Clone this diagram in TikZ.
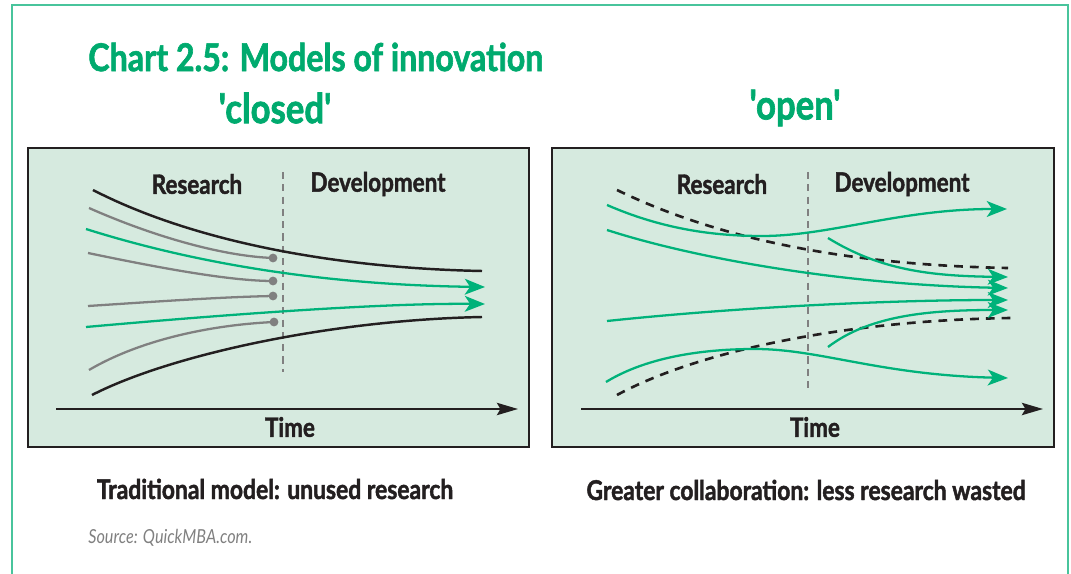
\documentclass[tikz,border=0pt]{standalone}
\usepackage{fontspec}
\usepackage{xcolor}
\usepackage{tikz}
\usetikzlibrary{calc}
\usetikzlibrary{arrows.meta}
\usetikzlibrary{positioning}

\newfontfamily\gill[FakeStretch=0.84, BoldFeatures={FakeBold=1.6}]{Lato}
\definecolor{titlegreen}{RGB}{0,170,110}
\definecolor{linegreen}{RGB}{0,178,122}
\definecolor{framegreen}{RGB}{72,196,156}
\definecolor{panelfill}{RGB}{214,234,223}
\definecolor{inkdark}{RGB}{35,31,32}
\definecolor{deadgray}{RGB}{128,128,128}

\tikzset{
  panel/.style={draw=inkdark, line width=1.4pt, fill=panelfill},
  head/.style={font=\gill\bfseries\fontsize{15.2}{17}\selectfont, text=inkdark, inner sep=0pt},
  heading/.style={font=\gill\bfseries\fontsize{21.8}{24}\selectfont, text=titlegreen, inner sep=0pt},
  caption/.style={font=\gill\bfseries\fontsize{15.5}{17}\selectfont, text=inkdark, inner sep=0pt},
  divider/.style={draw=deadgray, line width=1.1pt, dash pattern=on 4pt off 3pt},
  flow/.style={draw=linegreen, line width=1.3pt, -{Stealth[length=11.5pt,width=9pt,inset=3pt]}},
  deadend/.style={draw=deadgray, line width=1.3pt},
  edge/.style={draw=inkdark, line width=1.4pt},
  edgedash/.style={draw=inkdark, line width=1.5pt, dash pattern=on 5pt off 4pt},
  timeline/.style={draw=inkdark, line width=1.2pt, -{Stealth[length=12pt,width=7pt,inset=2pt]}},
  stub/.style={circle, fill=deadgray, inner sep=0pt, minimum size=5pt},
}

\begin{document}
\begin{tikzpicture}[x=0.02cm, y=-0.02cm]
\useasboundingbox (0,0) rectangle (1071,574);
% outer frame, open at the bottom
\draw [draw=framegreen, line width=1.2pt] (12,574) -- (12,5) -- (1068,5) -- (1068,574);

% titles
\node [heading, anchor=west] (chart) at (88,57) {Chart 2.5: Models of innovation};
\node [heading, font=\gill\bfseries\fontsize{23.5}{26}\selectfont] (closed) at (275,108) {'closed'};
\node [heading, font=\gill\bfseries\fontsize{23.5}{26}\selectfont] (open) at (795,108) {'open'};

% left panel: closed model
\draw [panel] (28,148) rectangle (529,447);
\node [head] (resL) at (197,184) {Research};
\node [head] (devL) at (378,184) {Development};
\draw [divider] (283,172) -- (283,372);
\draw [edge] (93,190) .. controls (190,240) and (330,268) .. (482,271);
\draw [edge] (92,395) .. controls (170,355) and (330,320) .. (482,317);
\draw [deadend] (89,208) .. controls (150,235) and (220,256) .. (273,258);
\draw [deadend] (88,253) .. controls (160,268) and (230,281) .. (273,281);
\draw [deadend] (88,306) .. controls (150,302) and (220,297) .. (273,296);
\draw [deadend] (89,370) .. controls (140,340) and (210,325) .. (274,322);
\foreach \x/\y/\n in {273/258/a, 273/281/b, 273/296/c, 274/322/d}
  \node [stub] (stub\n) at (\x,\y) {};
\draw [flow] (86,229) .. controls (200,265) and (330,285) .. (485,287);
\draw [flow] (86,327) .. controls (220,315) and (380,303) .. (485,304);
\coordinate (t0L) at (56,409);
\coordinate (t1L) at (518,409);
\draw [timeline] (t0L) -- (t1L);
\node [head] (timeL) at (290,427) {Time};

% right panel: open model
\draw [panel] (552,148) rectangle (1054,447);
\node [head] (resR) at (722,184) {Research};
\node [head] (devR) at (902,184) {Development};
\draw [divider] (808,172) -- (808,389);
\draw [edgedash] (617,190) .. controls (720,240) and (850,265) .. (1008,268);
\draw [edgedash] (617,395) .. controls (700,350) and (850,320) .. (1012,318);
\draw [flow] (607,205) .. controls (660,228) and (710,236) .. (762,236)
  .. controls (830,236) and (900,209) .. (1007,209);
\draw [flow] (607,230) .. controls (700,260) and (850,285) .. (1008,288);
\draw [flow] (828,238) .. controls (880,270) and (930,276) .. (1008,277);
\draw [flow] (607,321) .. controls (750,306) and (900,300) .. (1008,300);
\draw [flow] (828,347) .. controls (870,315) and (930,310) .. (1008,310);
\draw [flow] (606,382) .. controls (650,355) and (710,349) .. (755,349)
  .. controls (820,349) and (880,375) .. (1008,378);
\coordinate (t0R) at (581,409);
\coordinate (t1R) at (1043,409);
\draw [timeline] (t0R) -- (t1R);
\node [head] (timeR) at (815,427) {Time};

% captions
\node [caption] (capL) at (275,489) {Traditional model: unused research};
\node [caption] (capR) at (806,490) {Greater collaboration: less research wasted};
\node [font=\gill\itshape\fontsize{11}{13}\selectfont, text=deadgray, anchor=west, inner sep=0pt] (source) at (88,538) {Source: QuickMBA.com.};
\end{tikzpicture}
\end{document}
